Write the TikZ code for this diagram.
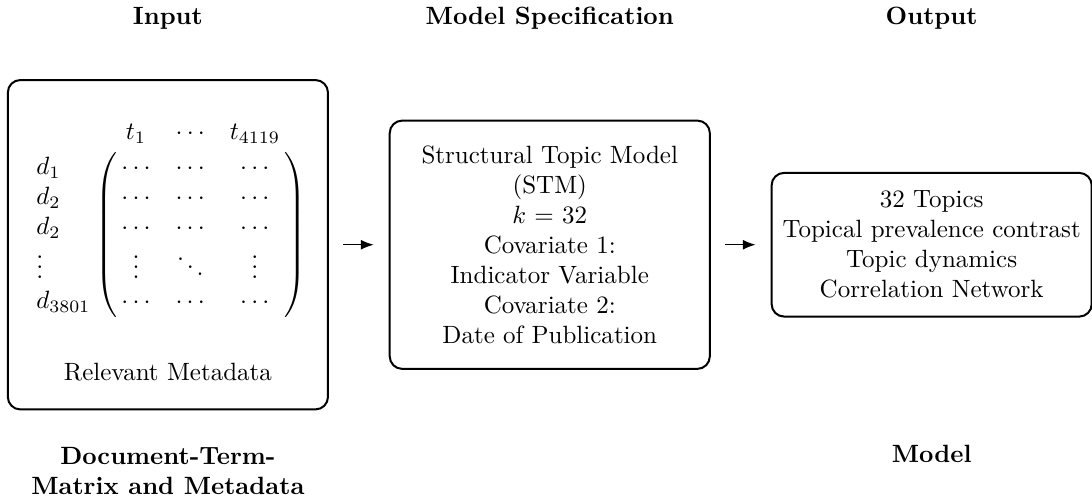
\documentclass[tikz,border=0pt]{standalone}
\usetikzlibrary{positioning,arrows.meta}
\begin{document}
\begin{tikzpicture}[
        stagebox/.style={draw, thick, rounded corners=5pt, minimum width=4.5cm, align=center},
        stagetitle/.style={font=\bfseries, inner sep=0pt, align=center},
        flow/.style={-{Latex[length=1.8mm, width=1.4mm]}, line width=0.6pt, shorten <=0.2cm, shorten >=0.21cm}
    ]
    \useasboundingbox (0, 0) rectangle (15.35, -7.03);
    \coordinate (toprow) at (0, -0.35);
    \coordinate (botrow) at (0, -6.50);

    \node[stagebox, minimum height=4.63cm] (inputbox) at (2.36, -3.44) {};
    \node[stagebox, minimum height=3.49cm, right=0.84cm of inputbox] (specbox)
        {Structural Topic Model\\(STM)\\$k$ = 32\\Covariate 1:\\Indicator Variable\\Covariate 2:\\Date of Publication};
    \node[stagebox, minimum height=2.02cm, right=0.84cm of specbox] (outbox)
        {32 Topics\\Topical prevalence contrast\\Topic dynamics\\Correlation Network};

    % document-term matrix inside the input box
    \node[inner sep=0pt, anchor=north west] (dtm) at ([xshift=0.31cm, yshift=-0.54cm]inputbox.north west)
        {$\bordermatrix{ & t_1 & \cdots & t_{4119} \cr
            d_1 & \cdots & \cdots & \cdots \cr
            d_2 & \cdots & \cdots & \cdots \cr
            d_2 & \cdots & \cdots & \cdots \cr
            \vdots & \vdots & \ddots & \vdots \cr
            d_{3801} & \cdots & \cdots & \cdots }$};
    \node[inner sep=0pt, anchor=base] (meta) at ([yshift=0.42cm]inputbox.south) {Relevant Metadata};

    \draw[flow] (inputbox.east) -- (inputbox.east -| specbox.west);
    \draw[flow] (inputbox.east -| specbox.east) -- (inputbox.east -| outbox.west);

    \node[stagetitle, anchor=base] (intitle) at (inputbox.center |- toprow) {Input};
    \node[stagetitle, anchor=base] (spectitle) at (specbox.center |- toprow) {Model Specification};
    \node[stagetitle, anchor=base] (outtitle) at (outbox.center |- toprow) {Output};
    \node[stagetitle, anchor=north] (dtmtitle) at ([yshift=0.22cm]inputbox.center |- botrow) {Document-Term-\\Matrix and Metadata};
    \node[stagetitle, anchor=base] (modeltitle) at (outbox.center |- botrow) {Model};
\end{tikzpicture}
\end{document}
